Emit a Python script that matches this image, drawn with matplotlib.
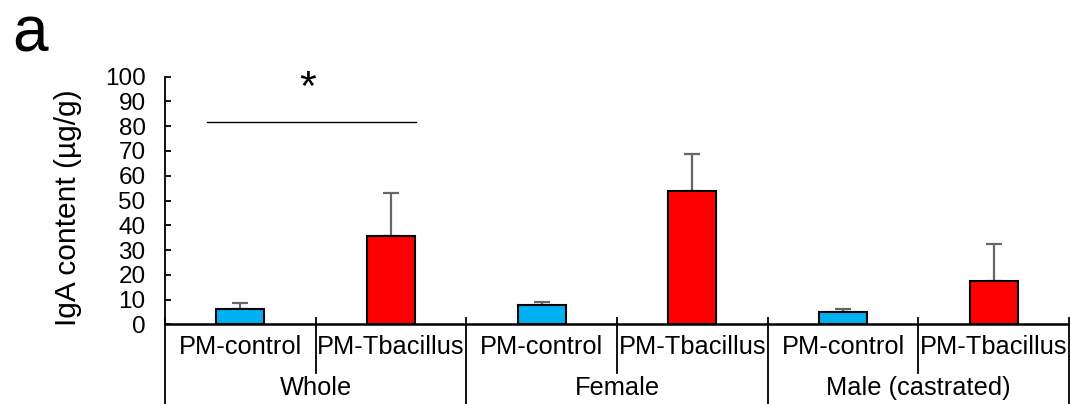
import matplotlib
matplotlib.use("Agg")
import matplotlib.pyplot as plt
import matplotlib.transforms as mtransforms

plt.rcParams['font.family'] = ['Liberation Sans', 'DejaVu Sans']

groups = ["Whole", "Female", "Male (castrated)"]
treatments = ["PM-control", "PM-Tbacillus"]
means = [6.2, 35.7, 7.7, 53.8, 5.0, 17.6]
errors = [2.3, 17.3, 1.4, 14.9, 1.2, 14.8]
colors = ["#00B0F0", "#FF0000"] * 3
yticks = list(range(0, 101, 10))
sig_text = "*"

fig = plt.figure(figsize=(10.7, 4.04), dpi=100)
H = 404.0
ax = fig.add_axes([165/1070, (H-324.3)/H, (1069-165)/1070, (324.3-76.7)/H])

x = list(range(len(means)))
ax.bar(x, means, width=0.317, color=colors, edgecolor="black", linewidth=1.5, zorder=2)
ax.errorbar(x, means, yerr=[[0]*len(means), errors], fmt="none", ecolor="#666666",
            elinewidth=1.6, capsize=6, capthick=1.6, zorder=1)

ax.set_xlim(-0.5, 5.5)
ax.set_ylim(0, 100)
ax.set_yticks(yticks)
ax.set_yticklabels([str(t) for t in yticks], fontsize=17.5)
ax.tick_params(axis="y", direction="in", length=4, width=1.3, pad=14)
ax.set_xticks([-0.5, 0.5, 1.5, 2.5, 3.5, 4.5, 5.5])
ax.set_xticklabels([])
ax.tick_params(axis="x", direction="in", length=5, width=1.3)
for s in ["top", "right"]:
    ax.spines[s].set_visible(False)
ax.spines["left"].set_linewidth(1.3)
ax.spines["bottom"].set_linewidth(1.8)

ax.set_ylabel("IgA content (µg/g)", fontsize=21.5)
ax.yaxis.set_label_coords(-0.092, 0.47)

trans = mtransforms.blended_transform_factory(ax.transData, ax.transAxes)
for i in range(len(means)):
    ax.text(i, -0.093, treatments[i % 2], transform=trans, ha="center", va="center", fontsize=18.3)
for g, name in enumerate(groups):
    ax.text(2*g + 0.5, -0.258, name, transform=trans, ha="center", va="center", fontsize=18.3)
for xs in [0.5, 2.5, 4.5]:
    ax.plot([xs, xs], [0, -0.197], transform=trans, color="black", lw=1.3, clip_on=False)
for xs in [-0.5, 1.5, 3.5, 5.5]:
    ax.plot([xs, xs], [0, -0.33], transform=trans, color="black", lw=1.3, clip_on=False)

ax.plot([-0.223, 1.166], [81.8, 81.8], color="black", lw=1.0, clip_on=False)
ax.text(0.45, 90.5, sig_text, ha="center", va="baseline", fontsize=31, clip_on=False)

fig.text(0.011, (H-51)/H, "a", fontsize=46, ha="left", va="baseline")

fig.savefig("out.png", dpi=100)
